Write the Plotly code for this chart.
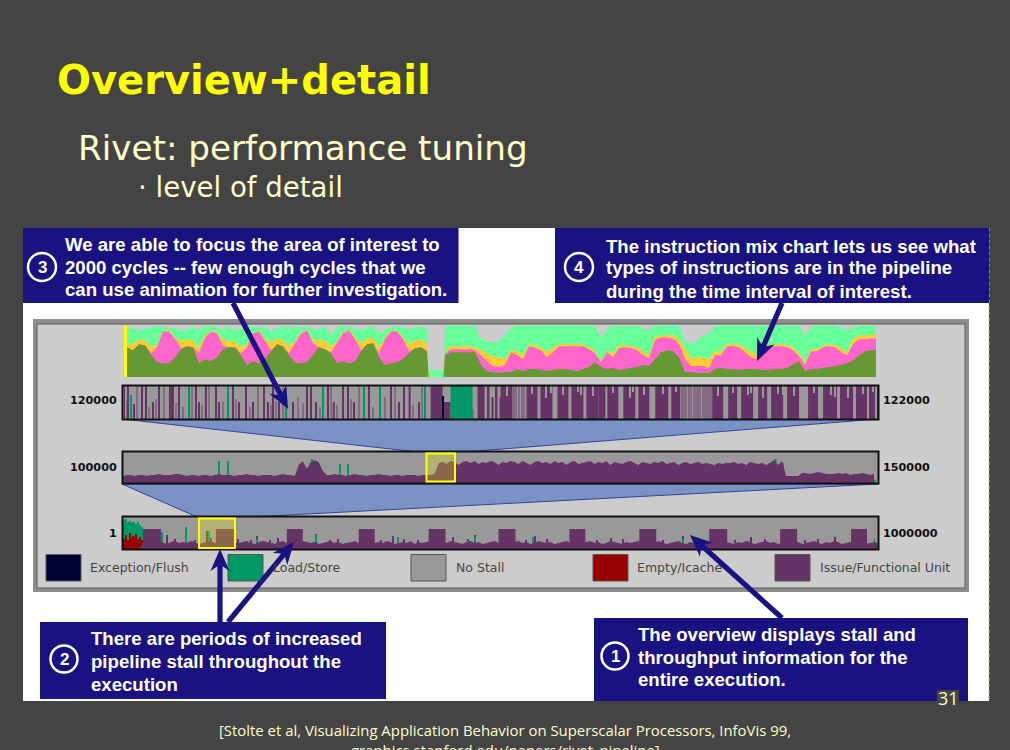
import plotly.graph_objects as go

W, H = 1010, 750
SLIDE = "#444444"; NAVY = "#1a1280"; CREAM = "#ffffcc"
PURPLE = "#663366"; GREEN = "#009966"; RED = "#990000"; STALL = "#999999"; EXC = "#000033"; FAINT = "#846c84"
OLIVE = "#669933"; PINK = "#ff66cc"; AMBER = "#ffcc33"; MINT = "#66ff99"

# ---- instruction mix chart: cumulative tops, sampled every 6 columns
mix_olive = [30,27,33,32,23,15,14,14,20,28,31,30,14,18,16,20,28,30,30,22,12,16,14,18,26,33,31,22,15,14,15,22,30,28,24,14,16,14,16,26,33,34,20,12,14,15,18,24,29,30,26,
             0,0,22,25,25,25,25,25,12,6,5,4,
             5,5,8,6,8,8,7,6,7,8,8,7,6,8,10,15,10,8,9,7,8,9,10,12,11,18,25,27,26,20,5,5,4,4,4,8,9,8,8,7,8,8,8,7,7,8,8,9,13,16,6,8,8,9,10,11,12,14,17,22,26,27,27]
mix_pink = [30,27,33,32,24,30,46,46,38,29,31,30,24,40,46,44,32,30,30,24,30,44,46,36,27,33,31,24,34,44,47,34,30,28,25,34,44,47,38,27,33,34,24,38,46,46,38,26,29,30,26,
            0,0,24,28,28,28,28,27,22,16,11,10,
            12,25,22,18,31,29,27,20,25,31,31,31,31,31,28,24,15,25,20,29,30,29,27,22,19,37,40,40,39,33,18,11,11,11,9,22,22,31,31,30,25,20,18,30,30,31,31,30,27,21,12,26,26,30,31,30,25,22,33,38,38,39,39]
mix_amber = [33,33,38,37,31,32,47,47,40,36,38,36,30,42,47,45,38,36,36,30,33,45,47,38,35,39,37,31,36,45,48,36,38,36,31,36,45,48,40,34,39,40,30,40,47,47,40,33,37,38,33,
             0,0,26,31,31,31,31,30,27,24,21,20,
             18,27,26,22,33,32,30,25,30,33,33,33,33,33,30,26,16,27,23,32,32,31,30,26,22,41,42,42,42,38,28,19,20,20,18,26,26,33,33,33,29,25,23,32,32,33,33,32,30,24,15,28,28,32,33,32,29,25,38,42,42,43,43]
mix_mint = [48,50,47,49,50,51,51,49,50,46,48,51,47,51,51,50,48,51,47,49,51,51,50,50,46,50,51,50,51,50,51,48,49,51,42,50,51,51,49,47,50,51,44,48,50,51,50,49,50,51,49,
            7,7,51,52,52,52,52,52,38,36,35,36,
            42,50,52,52,52,52,52,52,52,52,52,52,52,52,52,51,40,48,52,52,52,52,52,49,47,52,52,52,52,52,36,33,37,42,44,52,52,52,52,52,52,52,52,52,52,52,52,52,52,52,42,50,52,52,52,52,50,47,50,52,52,52,52]
mix_step = 6
mix_gap_index = [51, 52]
mix_gap_col = [301.5, 316.5]

# ---- detail strip 120000-122000 (columns, widths, stalled depth)
det_issue_col = [1,5,11,19,23,29,36,46,49,56,73,76,82,93,96,110,116,123,130,141,145,150,156,170,184,188,193,205,210,220,225,231,246,268,276,281,286,296,
                 308,321,355,365,369,373,377,381,385,378,404,418,435,449,464,476,485,501,516,533,549,590,606,619,636,649,665,686,701,718,734,747,755]
det_issue_w   = [1,1,1,1,1,2,1,2,2,1,1,1,2,1,1,1,1,1,1,1,1,1,1,1,1,1,1,1,2,1,1,1,1,1,1,1,2,1,
                 12,7,7,2,2,2,2,2,2,12,11,12,11,12,12,7,11,12,11,13,9,11,9,12,9,12,12,10,14,13,11,6,1]
det_issue_h   = [33,33,15,33,33,17,33,33,33,33,33,17,33,33,17,33,17,33,17,33,17,33,17,17,33,33,17,33,17,33,33,17,33,33,17,33,33,17,
                 33,17,33,33,22,33,22,33,22,33,33,33,33,33,33,33,33,33,33,33,33,33,33,33,33,33,33,33,33,33,33,33,33]
det_faint_col = [3,14,26,33,41,53,60,69,79,86,100,113,127,135,148,153,160,175,180,197,208,214,228,236,250,262,272,290,299,350,391,393,396,399,401,
                 559,561,563,566,568,571,573,575,577,580,582,584,586,588]
det_faint_h   = [18,33,12,20,33,16,12,33,14,33,18,20,12,33,14,18,33,22,16,12,33,14,20,33,12,22,33,14,33,10,33,33,33,33,33,
                 33,33,33,33,33,33,33,33,33,33,33,33,33,33]
det_notch_col = [300,384,409,423,440,455,470,490,507,521,540,553,595,610,625,640,655,671,691,708,725,740,750,395,428,458,510,530,603,628,660,680,712,745]
det_notch_d   = [0,10,8,12,9,6,10,7,12,9,8,6,10,7,9,12,8,10,7,9,12,8,6,0,7,9,6,10,8,7,9,6,11,7]
det_load_col = [8,66,105,163,200,241,257,302,328]
det_load_w   = [1,1,1,1,1,1,1,1,22]
det_load_h   = [24,33,33,17,33,33,33,33,33]
det_flush_col = [320]
det_flush_w   = [1]
det_flush_h   = [23]

# ---- mid strip 100000-150000: issue stall, sampled every 4 columns
mid_issue = [7,8,8,7,8,8,7,8,8,9,8,8,8,9,9,8,7,8,8,7,8,8,7,8,9,8,8,8,7,8,8,9,8,8,7,8,8,8,7,8,9,8,8,7,18,22,14,20,23,21,12,8,8,9,8,8,7,8,9,8,8,7,8,8,9,8,8,7,8,8,7,8,8,8,7,8,8,8,9,
             20,21,19,22,21,18,21,22,20,22,19,21,20,22,21,18,21,20,22,21,19,22,20,18,21,22,20,21,19,22,20,21,18,21,22,19,20,21,22,19,21,20,22,18,21,20,19,21,22,20,18,21,20,19,21,20,22,19,20,21,18,20,21,19,20,21,19,20,19,18,20,19,20,20,21,19,20,18,21,20,19,20,18,
             20,23,18,22,7,7,7,7,10,10,9,10,11,10,9,9,9,10,9,10,8,9,9,10,9,8,9]
mid_step = 4
mid_load_col = [96,105,178,181,184,186,188,190,192,194,196,198,217,225,30,55,85,120,140,240,270,300,310,316,646,648,650,652,654,656,660,700,720,740,752]
mid_load_w   = [1.2,1.2,2,2,2.4,2.4,2.4,2.4,2.4,2,2,2,1.2,1.2,3,3,3,3,3,3,3,3,2,1.2,2.4,2.4,2.4,2.4,2.4,2,1.6,4,4,4,1.2]
mid_load_h   = [22,22,10,14,16,20,24,18,22,14,10,6,19,19,2,2,2,2,2,2,2,2,2,7,20,12,14,24,9,10,20,3,3,3,3]
mid_empty_col = [186,190,196]
mid_empty_h   = [3,4,2]

# ---- overview strip 1-1000000
ovw_issue = [0,0,0,0,0,7,8,6,7,9,6,5,7,8,6,7,6,8,7,5,6,7,8,6,7,5,6,8,7,6,7,8,6,5,7,8,7,6,5,7,8,6,7,6,5,8,7,6,7,5,6,7,8,6,7,5,6,7,8,6,7,8,5,6,7,6,8,7,5,6,7,6,8,5,7,6,7,8,6,5,7,6,8,7,6,5,7,8,6,7,5,6,7,8,6,7,5,6,7,8,6,7,5,6,8,7,6,7,5,6,7,8,6,5,7,6,7,8,6,7,5,6,8,7,6,5,7,6,7,8,5,6,7,6,8,7,5,6,7,8,6,5,7,6,7,8,6,7,5,6,8,7,6,5,7,6,8,7,5,6,7,8,6,7,5,6,7,6,8,7,5,6,7,8,6,5,7,6,8,7,5,6,7,6,8,7,5,6,7,6,8,7,6]
ovw_step = 4
ovw_burst_start = [19,93,164,236,306,376,447,517,587,658,729]
ovw_burst_end   = [38,111,180,252,323,393,463,534,605,675,745]
ovw_burst_h     = [20,20,20,20,20,20,20,20,20,20,20]
ovw_spike_col = [44,52,63,72,84,88,115,128,134,147,155,193,207,215,258,270,281,295,330,345,352,403,412,424,474,488,500,540,560,572,612,628,642,682,695,712,752]
ovw_spike_h   = [14,10,20,9,18,11,10,9,13,9,11,15,9,10,9,13,10,9,12,10,14,9,13,10,9,11,10,9,13,10,9,12,10,9,10,12,10]
ovw_load_col = [0,2,4,6,8,10,12,14,16,18,39,41,45,55,63,70,86,89,125,134,142,150,160,193,200,210,222,258,265,275,290,300,330,345,352,368,400,410,420,470,480,490,540,550,560,575,612,625,640,682,695,710,752,
                49,58,76,98,118,130,146,156,186,204,216,230,254,270,284,296,326,338,358,404,416,428,476,486,496,536,546,566,580,618,632,650,688,702,720,748]
ovw_load_h   = [29,30,27,28,26,27,25,27,24,22,17,6,5,4,22,5,18,6,5,10,5,6,4,14,5,4,6,6,4,12,5,4,5,8,12,5,6,12,5,6,5,5,6,5,10,5,6,5,5,6,5,6,9,
                3,2,3,2,3,2,3,2,3,2,3,2,3,2,3,2,3,2,3,2,3,2,3,2,3,2,3,2,3,2,3,2,3,2,3,2]
ovw_empty_col = [0,2,4,6,8,10,12,14,16,18,38,40,42]
ovw_empty_h   = [10,14,9,16,11,13,15,10,12,9,4,6,3]

legend_labels = ["Exception/Flush", "Load/Store", "No Stall", "Empty/Icache", "Issue/Functional Unit"]
legend_colors = [EXC, GREEN, STALL, RED, PURPLE]
legend_box_x = [46, 228, 411, 593, 775]
legend_text_x = [89, 272, 455, 636, 819]

callouts = {
    "3": ["We are able to focus the area of interest to", "2000 cycles -- few enough cycles that we", "can use animation for further investigation."],
    "4": ["The instruction mix chart lets us see what", "types of instructions are in the pipeline", "during the time interval of interest."],
    "2": ["There are periods of increased", "pipeline stall throughout the", "execution"],
    "1": ["The overview displays stall and", "throughput information for the", "entire execution."],
}
strip_labels_left = ["120000", "100000", "1"]
strip_labels_right = ["122000", "150000", "1000000"]

def X(p): return p / W
def Y(p): return 1 - p / H

fig = go.Figure()
shapes, annos = [], []

def rect(x0, y0, x1, y1, fill="rgba(0,0,0,0)", line=None, lw=0, layer="below", dash=None):
    shapes.append(dict(type="rect", xref="paper", yref="paper", x0=X(x0), x1=X(x1), y0=Y(y1), y1=Y(y0),
                       fillcolor=fill, layer=layer,
                       line=dict(color=line or "rgba(0,0,0,0)", width=lw, dash=dash)))

def poly(pts, fill, line=None, lw=0, layer="below"):
    path = "M " + " L ".join(f"{X(a):.5f} {Y(b):.5f}" for a, b in pts) + " Z"
    shapes.append(dict(type="path", xref="paper", yref="paper", path=path, fillcolor=fill, layer=layer,
                       line=dict(color=line or "rgba(0,0,0,0)", width=lw)))

def text(x, y, s, size, color, family, anchor="left", bold=False):
    annos.append(dict(xref="paper", yref="paper", x=X(x), y=Y(y), text=f"<b>{s}</b>" if bold else s,
                      showarrow=False, xanchor=anchor, yanchor="middle", borderpad=0,
                      font=dict(size=size, color=color, family=family)))

def arrow(tail, tip, L=22, hw=9.5, sw=2.6):
    dx, dy = tip[0] - tail[0], tip[1] - tail[1]
    n = (dx * dx + dy * dy) ** 0.5
    ux, uy = dx / n, dy / n
    px, py = -uy, ux
    def P(a, b): return (tip[0] - ux * a + px * b, tip[1] - uy * a + py * b)
    poly([(tail[0] + px * sw, tail[1] + py * sw), P(L * 0.78, sw), P(L, hw), tip, P(L, -hw), P(L * 0.78, -sw),
          (tail[0] - px * sw, tail[1] - py * sw)], NAVY, layer="above")

rect(23, 228, 989, 701, "#ffffff")
shapes.append(dict(type="line", xref="paper", yref="paper", x0=X(989), x1=X(989), y0=Y(228), y1=Y(701), layer="below",
                   line=dict(color="#c8c870", width=1, dash="dot")))
rect(33, 319, 969, 592, "#8c8c8c")
rect(37, 324, 965, 588, "#cccccc", "#5a5a5a", 1)

panels = [
    ("", 127, 876, 325.5, 377, 52),
    ("2", 123, 878, 386, 419, 33),
    ("3", 123, 878, 452, 483, 31),
    ("4", 123, 878, 517, 549, 32),
]
layout_axes = {}
for sfx, x0, x1, y0, y1, ymax in panels:
    xr = 749 if sfx == "" else 756
    layout_axes["xaxis" + sfx] = dict(domain=[X(x0), X(x1)], range=[0, xr], visible=False, anchor="y" + sfx, fixedrange=True)
    layout_axes["yaxis" + sfx] = dict(domain=[Y(y1), Y(y0)], range=[0, ymax], visible=False, anchor="x" + sfx, fixedrange=True)

poly([(122, 419), (878, 419), (465, 452), (418, 452)], "#7b93c4", "#35409a", 1)
poly([(122, 484), (878, 484), (250, 517), (197, 517)], "#7b93c4", "#35409a", 1)

for _, x0, x1, y0, y1, _m in panels[1:]:
    rect(x0, y0, x1, y1, STALL)
rect(124, 325.5, 127, 377, "#ffff00")

mix_x = [i * mix_step for i in range(len(mix_mint))]
for i, c in zip(mix_gap_index, mix_gap_col):
    mix_x[i] = c
for vals, col in [(mix_mint, MINT), (mix_amber, AMBER), (mix_pink, PINK), (mix_olive, OLIVE)]:
    fig.add_trace(go.Scatter(x=mix_x, y=vals, mode="lines", fill="tozeroy", fillcolor=col,
                             line=dict(color=col, width=0), xaxis="x", yaxis="y", hoverinfo="skip"))

def bars(cols, widths, heights, color, ax, base=None):
    fig.add_trace(go.Bar(x=[c + w / 2 for c, w in zip(cols, widths)], width=widths, y=heights, base=base,
                         marker=dict(color=color, line=dict(width=0)), xaxis="x" + ax, yaxis="y" + ax, hoverinfo="skip"))

def area(vals, step, color, ax):
    fig.add_trace(go.Scatter(x=[i * step for i in range(len(vals))], y=vals, mode="lines", fill="tozeroy",
                             fillcolor=color, line=dict(color=color, width=0), xaxis="x" + ax, yaxis="y" + ax, hoverinfo="skip"))

bars(det_faint_col, [0.8] * len(det_faint_col), det_faint_h, FAINT, "2")
bars(det_issue_col, det_issue_w, det_issue_h, PURPLE, "2")
bars(det_notch_col, [1] * len(det_notch_col), det_notch_d, STALL, "2", base=[33 - d for d in det_notch_d])
bars(det_load_col, det_load_w, det_load_h, GREEN, "2")
bars(det_flush_col, det_flush_w, det_flush_h, EXC, "2")

area(mid_issue, mid_step, PURPLE, "3")
bars(mid_load_col, mid_load_w, mid_load_h, GREEN, "3")
bars(mid_empty_col, [1.6] * len(mid_empty_col), mid_empty_h, EXC, "3")

area(ovw_issue, ovw_step, PURPLE, "4")
bars(ovw_burst_start, [e - s for s, e in zip(ovw_burst_start, ovw_burst_end)], ovw_burst_h, PURPLE, "4")
bars(ovw_spike_col, [1] * len(ovw_spike_col), ovw_spike_h, PURPLE, "4")
bars(ovw_load_col, [2 if c < 20 else 1 for c in ovw_load_col], ovw_load_h, GREEN, "4")
bars(ovw_empty_col, [2] * len(ovw_empty_col), ovw_empty_h, RED, "4")

for _, x0, x1, y0, y1, _m in panels[1:]:
    rect(x0 - 0.5, y0 - 0.5, x1 + 0.5, y1 + 0.5, line="#111111", lw=2, layer="above")
rect(426.5, 453.5, 455, 481.5, "rgba(255,255,0,0.25)", "#ffff00", 2, layer="above")
rect(199, 518.5, 235, 548, "rgba(255,255,0,0.25)", "#ffff00", 2, layer="above")

for bx, tx, lab, col in zip(legend_box_x, legend_text_x, legend_labels, legend_colors):
    rect(bx, 554.5, bx + 35, 581, col, "#555555", 1)
    text(tx, 567, lab, 12.5, "#444444", "DejaVu Sans")

for yy, a, b in zip([401, 467, 533], strip_labels_left, strip_labels_right):
    text(118, yy, a, 11.2, "#111111", "DejaVu Sans", anchor="right", bold=True)
    text(882, yy, b, 11.2, "#111111", "DejaVu Sans", bold=True)

boxes = {"3": (23, 228, 458.5, 303), "4": (555, 228, 989, 303), "2": (40, 622, 386, 699), "1": (594, 618, 968, 701)}
text_pos = {"3": (64, [244.5, 267, 289.5]), "4": (605, [246, 268, 291]), "2": (89.5, [638, 661, 684]), "1": (637, [634, 657, 679])}
circles = {"3": (42, 267, 14), "4": (579, 267, 14), "2": (64, 659, 13.5), "1": (615, 656, 13.5)}

arrow((233, 303), (288, 409))
arrow((782, 303), (757, 361))
arrow((220, 622), (220, 549))
arrow((228, 622), (294, 542))
arrow((782, 618), (690, 535))

for k, (x0, y0, x1, y1) in boxes.items():
    rect(x0, y0, x1, y1, NAVY, layer="above")
    tx, tys = text_pos[k]
    for ty, line in zip(tys, callouts[k]):
        text(tx, ty, line, 18.6, "#ffffff", "Liberation Sans", bold=True)
    cx, cy, r = circles[k]
    shapes.append(dict(type="circle", xref="paper", yref="paper", x0=X(cx - r), x1=X(cx + r), y0=Y(cy + r), y1=Y(cy - r),
                       layer="above", line=dict(color="#ffffff", width=2.5), fillcolor="rgba(0,0,0,0)"))
    text(cx, cy, k, 17, "#ffffff", "Liberation Sans", anchor="center", bold=True)

rect(937, 690, 959, 708, SLIDE, layer="above")
text(948, 698, "31", 18, CREAM, "Open Sans", anchor="center")
text(55.5, 80, "Overview+detail", 40, "#ffff00", "DejaVu Sans", bold=True)
text(76.5, 148, "Rivet: performance tuning", 34.2, CREAM, "DejaVu Sans")
text(137, 188, "· level of detail", 27.6, CREAM, "DejaVu Sans")
text(505, 730, "[Stolte et al, Visualizing Application Behavior on Superscalar Processors, InfoVis 99,", 14.9, CREAM, "Open Sans", anchor="center")
text(505, 750, "graphics.stanford.edu/papers/rivet_pipeline]", 14.9, CREAM, "Open Sans", anchor="center")

fig.update_layout(width=W, height=H, margin=dict(l=0, r=0, t=0, b=0), paper_bgcolor=SLIDE, plot_bgcolor="rgba(0,0,0,0)",
                  showlegend=False, barmode="overlay", shapes=shapes, annotations=annos, **layout_axes)
fig.write_html("out.html", config={"displayModeBar": False},
               post_script="document.body.style.margin='0';document.body.style.overflow='hidden';")
